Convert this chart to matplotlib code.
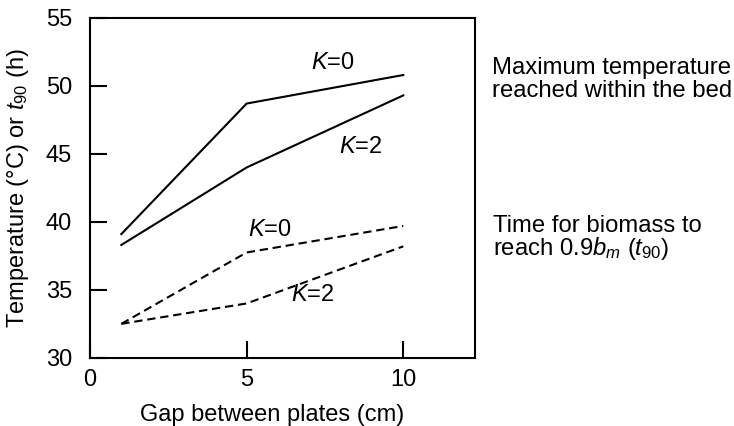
import matplotlib
matplotlib.use("Agg")
import matplotlib.pyplot as plt

plt.rcParams["font.family"] = ["Liberation Sans", "DejaVu Sans"]
plt.rcParams["mathtext.fontset"] = "custom"
plt.rcParams["mathtext.rm"] = "Liberation Sans"
plt.rcParams["mathtext.it"] = "Liberation Sans:italic"

# gap between plates (cm)
gap = [1, 5, 10]

# maximum temperature reached within the bed (deg C)
temp_k0 = [39.1, 48.7, 50.8]
temp_k2 = [38.3, 44.0, 49.3]

# time for biomass to reach 0.9 b_m (h)
t90_k0 = [32.5, 37.75, 39.7]
t90_k2 = [32.5, 34.0, 38.2]

x_ticks = [0, 5, 10]
y_ticks = [30, 35, 40, 45, 50, 55]

FONT = 17
LW = 1.5
DASH = (0, (4, 2.3))
H = 426.0

fig = plt.figure(figsize=(7.34, 4.26), dpi=100)
ax = fig.add_axes([0.1226, 0.160, 0.525, 0.798])

ax.plot(gap, temp_k0, color="black", lw=LW)
ax.plot(gap, temp_k2, color="black", lw=LW)
ax.plot(gap, t90_k0, color="black", lw=LW, linestyle=DASH)
ax.plot(gap, t90_k2, color="black", lw=LW, linestyle=DASH)

# curve labels
ax.text(7.75, 51.7, r"$K$=0", fontsize=FONT, ha="center", va="center")
ax.text(8.65, 45.5, r"$K$=2", fontsize=FONT, ha="center", va="center")
ax.text(5.75, 39.4, r"$K$=0", fontsize=FONT, ha="center", va="center")
ax.text(7.1, 34.65, r"$K$=2", fontsize=FONT, ha="center", va="center")

ax.set_xlim(0, 12.3)
ax.set_ylim(30, 55)
ax.set_xticks(x_ticks)
ax.set_yticks(y_ticks)
ax.tick_params(direction="in", length=12, width=LW, labelsize=FONT)
ax.tick_params(axis="x", pad=8)
ax.tick_params(axis="y", pad=13)

for sp in ax.spines.values():
    sp.set_linewidth(LW)

ax.set_xlabel("Gap between plates (cm)", fontsize=FONT)
ax.set_ylabel(r"Temperature (°C) or $\mathit{t}_{\mathit{90}}$ (h)", fontsize=FONT)
ax.xaxis.set_label_coords(0.473, -0.135)
ax.yaxis.set_label_coords(-0.153, 0.5)

# annotations right of the plot, one line each at its baseline
notes = [
    (492, 74, "Maximum temperature"),
    (492, 97, "reached within the bed"),
    (493, 232, "Time for biomass to"),
    (493, 255, r"reach 0.$\mathit{9b}_{\mathit{m}}$ ($\mathit{t}_{\mathit{90}}$)"),
]
for px, py, s in notes:
    fig.text(px / 734.0, 1 - py / H, s, fontsize=17.2, ha="left", va="baseline")

fig.savefig("out.png", dpi=100)
